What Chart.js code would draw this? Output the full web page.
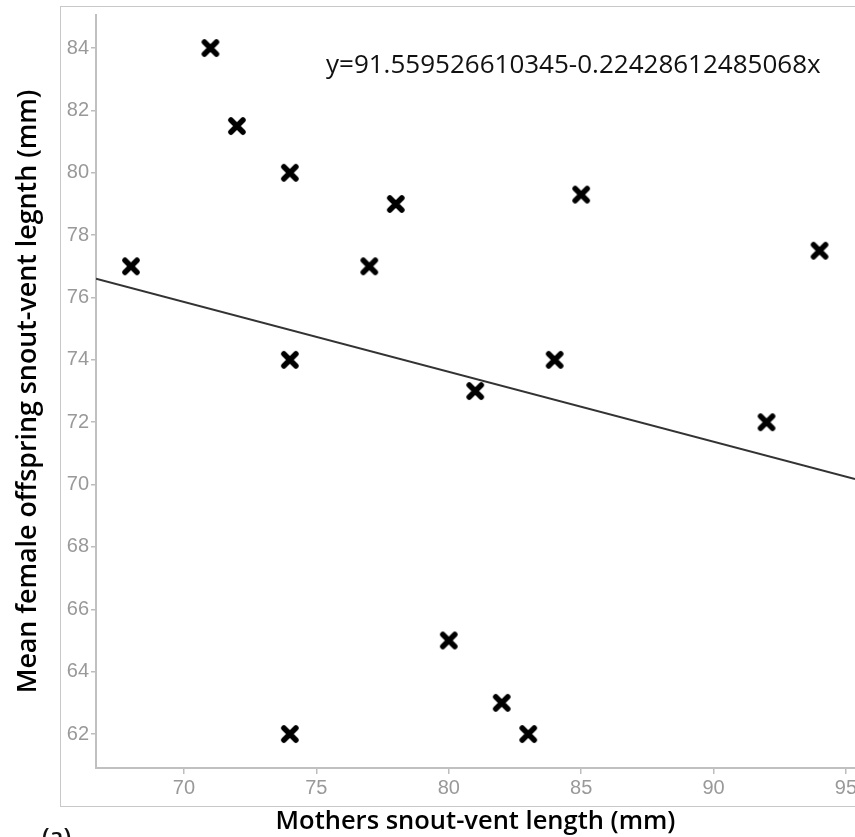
<!DOCTYPE html>
<html>
<head>
<meta charset="utf-8">
<script src="https://cdn.jsdelivr.net/npm/chart.js@4.4.1/dist/chart.umd.min.js"></script>
<style>
  html, body { margin: 0; padding: 0; background: #fff; overflow: hidden; }
  canvas { display: block; }
</style>
</head>
<body>
<canvas id="chart" width="855" height="837"></canvas>
<script>
// Data
const motherSvl = [68, 71, 72, 74, 74, 74, 77, 78, 80, 81, 82, 83, 84, 85, 92, 94];
const offspringSvl = [77, 84, 81.5, 80, 74, 62, 77, 79, 65, 73, 63, 62, 74, 79.3, 72, 77.5];

// Regression equation shown on the chart
const intercept = 91.559526610345;
const slope = -0.22428612485068;
const equationText = "y=91.559526610345-0.22428612485068x";

// Axis ranges and ticks
const xMin = 66.68, xMax = 95.34;
const yMin = 60.91, yMax = 85.06;
const xTicks = [70, 75, 80, 85, 90, 95];
const yTicks = [62, 64, 66, 68, 70, 72, 74, 76, 78, 80, 82, 84];

// thick black X marker
function makeMarker() {
  const c = document.createElement("canvas");
  c.width = 20;
  c.height = 20;
  const g = c.getContext("2d");
  g.strokeStyle = "#000";
  g.lineWidth = 5.5;
  g.lineCap = "round";
  g.beginPath();
  g.moveTo(4, 4);
  g.lineTo(16, 16);
  g.moveTo(16, 4);
  g.lineTo(4, 16);
  g.stroke();
  return c;
}

const points = motherSvl.map((x, i) => ({ x: x, y: offspringSvl[i] }));
const fitLine = [xMin, xMax].map((x) => ({ x: x, y: intercept + slope * x }));

// outer frame, equation and panel letter
const extras = {
  id: "extras",
  beforeDraw(chart) {
    const ctx = chart.ctx;
    ctx.save();
    ctx.strokeStyle = "#c8c8c8";
    ctx.lineWidth = 1;
    ctx.strokeRect(60.5, 6.5, 820, 800);
    ctx.restore();
  },
  afterDraw(chart) {
    const ctx = chart.ctx;
    ctx.save();
    ctx.fillStyle = "#111";
    ctx.font = "26px 'Open Sans'";
    ctx.textBaseline = "alphabetic";
    ctx.textAlign = "left";
    ctx.fillText(equationText, 326, 73, 497);
    ctx.font = "600 24px 'Open Sans'";
    ctx.textBaseline = "top";
    ctx.fillText("(a)", 42, 826);
    ctx.restore();
  },
};

new Chart(document.getElementById("chart"), {
  type: "scatter",
  data: {
    datasets: [
      {
        data: points,
        pointStyle: makeMarker(),
        pointRadius: 10,
        pointHoverRadius: 10,
      },
      {
        type: "line",
        data: fitLine,
        borderColor: "#333",
        borderWidth: 2,
        pointRadius: 0,
        fill: false,
      },
    ],
  },
  options: {
    responsive: false,
    animation: false,
    layout: {
      autoPadding: false,
      padding: { top: 15, left: 0, right: 0, bottom: 0 },
    },
    plugins: {
      legend: { display: false },
      tooltip: { enabled: false },
    },
    scales: {
      x: {
        type: "linear",
        min: xMin,
        max: xMax,
        afterBuildTicks: (s) => {
          s.ticks = xTicks.map((v) => ({ value: v }));
        },
        afterFit: (s) => {
          s.height = 69;
          s.paddingLeft = 0;
          s.paddingRight = 0;
        },
        grid: {
          drawOnChartArea: false,
          drawTicks: true,
          tickLength: 6,
          color: "#bdbdbd",
          lineWidth: 1.5,
        },
        border: { display: true, color: "#c0c0c0", width: 2 },
        ticks: {
          color: "#999",
          padding: 2,
          maxRotation: 0,
          font: { family: "'Liberation Sans', Arial", size: 20 },
        },
        title: {
          display: true,
          text: "Mothers snout-vent length (mm)",
          color: "#000",
          padding: { top: 0, bottom: 0 },
          font: { family: "'Open Sans'", size: 25.5, weight: "600" },
        },
      },
      y: {
        type: "linear",
        min: yMin,
        max: yMax,
        afterBuildTicks: (s) => {
          s.ticks = yTicks.map((v) => ({ value: v }));
        },
        afterFit: (s) => {
          s.width = 96;
        },
        grid: {
          drawOnChartArea: false,
          drawTicks: true,
          tickLength: 5,
          color: "#bdbdbd",
          lineWidth: 1.5,
        },
        border: { display: true, color: "#c0c0c0", width: 2 },
        ticks: {
          color: "#999",
          padding: 2,
          font: { family: "'Liberation Sans', Arial", size: 20 },
        },
        title: {
          display: true,
          text: "Mean female offspring snout-vent legnth (mm)",
          color: "#000",
          padding: { top: 12, bottom: 0 },
          font: { family: "'Open Sans'", size: 26.8, weight: "600" },
        },
      },
    },
  },
  plugins: [extras],
});
</script>
</body>
</html>
